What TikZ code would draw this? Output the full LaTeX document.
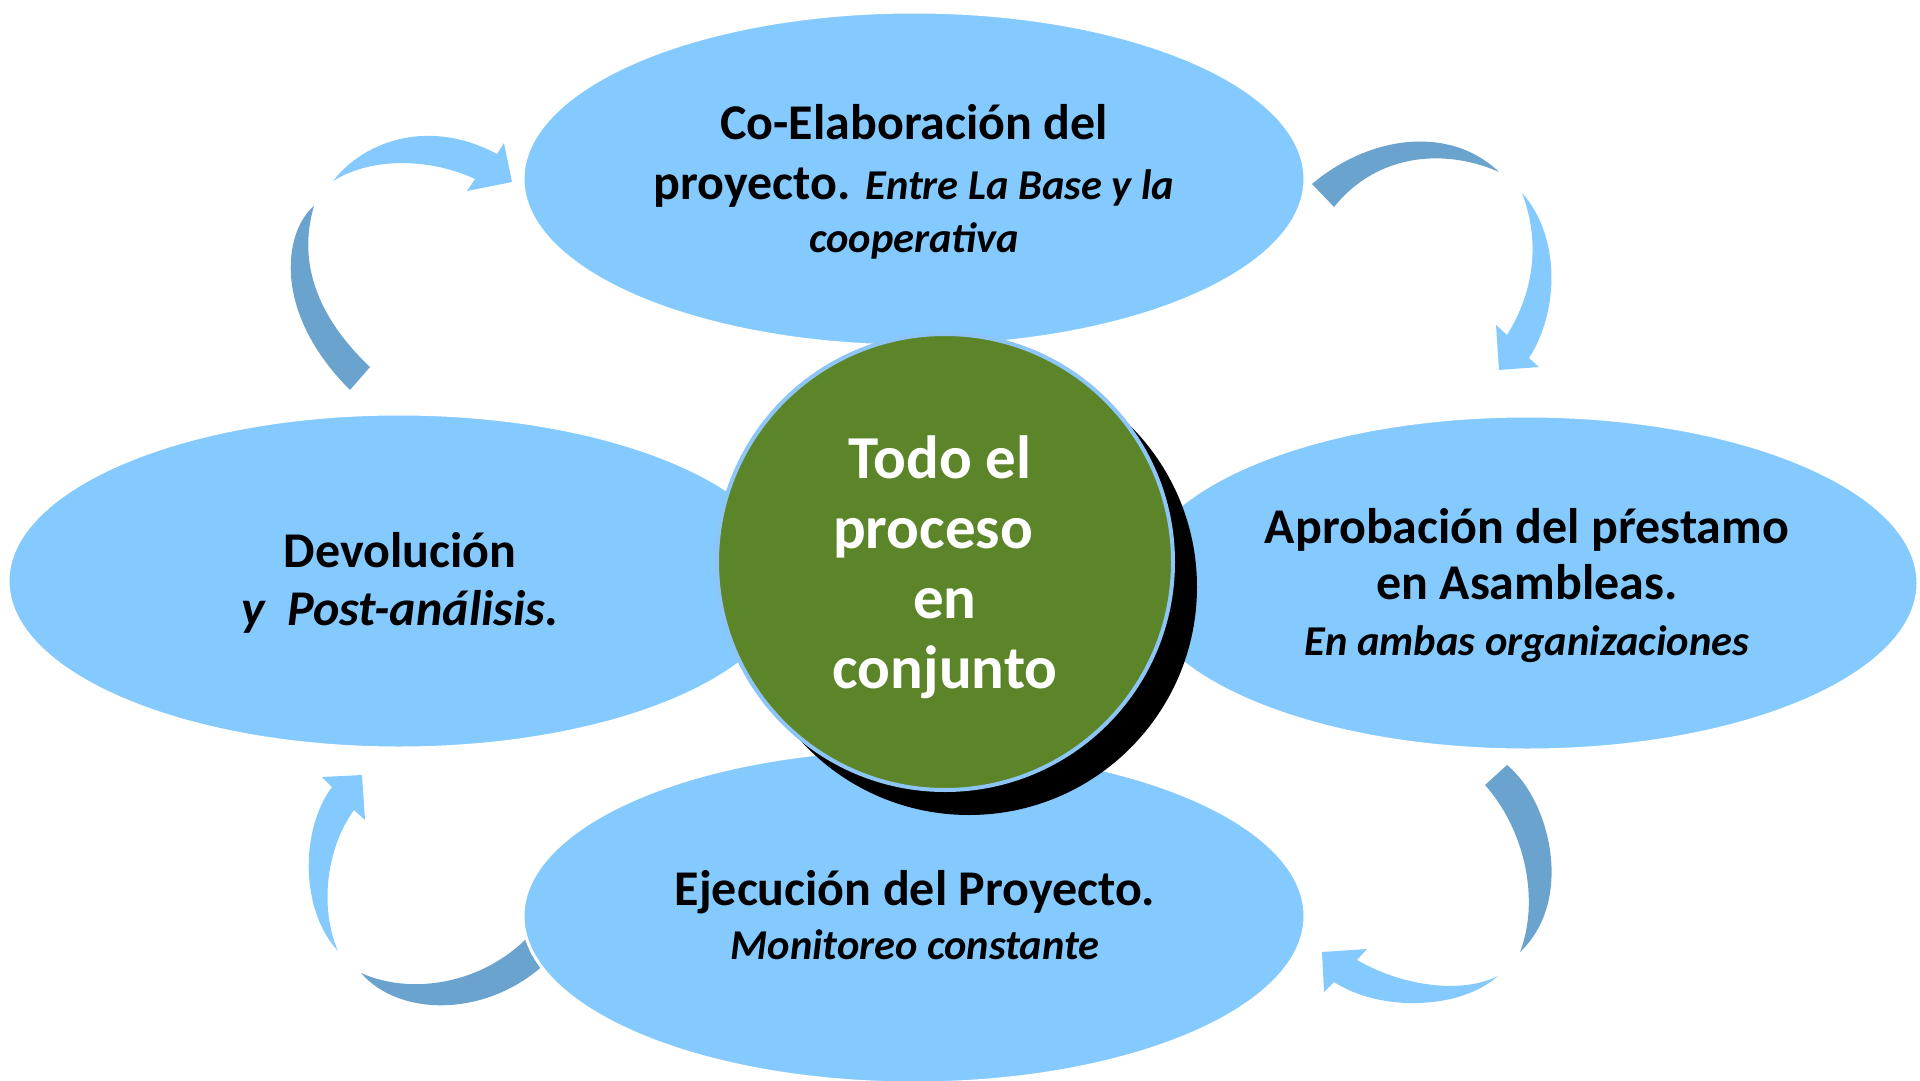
\documentclass[tikz,border=0pt]{standalone}
\usepackage{fontspec}
\setmainfont{Carlito}
\usepackage{tikz}
\usetikzlibrary{positioning}
\usetikzlibrary{shapes.geometric}

\definecolor{cielo}{RGB}{133,202,255}
\definecolor{acero}{RGB}{106,164,206}
\definecolor{olivo}{RGB}{92,133,42}
\definecolor{borde}{RGB}{141,197,246}
\newcommand{\cursiva}[1]{{\fontsize{42.5}{46}\selectfont\itshape #1}}

\begin{document}
\begin{tikzpicture}[x=1pt,y=-1pt,
	etapa/.style={ellipse,fill=cielo,draw=white,line width=3pt,minimum width=782pt,minimum height=334pt,inner sep=0pt},
	rotulo/.style={align=center,anchor=base,inner sep=0pt,font=\fontsize{50}{56}\selectfont\bfseries},
	cola/.style={fill=acero},
	punta/.style={fill=cielo}]
	\useasboundingbox (0,0) rectangle (1920,1081);

	\fill[punta] (333,181) .. controls (365,140) and (430,118) .. (497,154) -- (504,143) -- (512,182) -- (467,191) -- (475,179) .. controls (435,160) and (375,155) .. (333,181) -- cycle;
	\fill[cola] (314,206) .. controls (285,230) and (270,310) .. (350,390) -- (370,367) .. controls (315,315) and (298,260) .. (314,206) -- cycle;
	\fill[cola] (1312,184) .. controls (1370,135) and (1450,125) .. (1499,172) .. controls (1450,150) and (1380,150) .. (1334,207) -- cycle;
	\fill[punta] (1522,193) .. controls (1560,235) and (1560,310) .. (1529,358) -- (1539,367) -- (1499,370) -- (1496,325) -- (1507,335) .. controls (1535,290) and (1540,240) .. (1522,193) -- cycle;
	\fill[cola] (1507,765) .. controls (1550,800) and (1575,900) .. (1520,952) .. controls (1540,900) and (1525,830) .. (1485,785) -- cycle;
	\fill[punta] (1498,976) .. controls (1460,1010) and (1380,1012) .. (1334,982) -- (1324,992) -- (1322,952) -- (1367,949) -- (1357,960) .. controls (1400,985) and (1460,995) .. (1498,976) -- cycle;
	\fill[punta] (338,951) .. controls (300,910) and (300,830) .. (332,787) -- (322,777) -- (362,775) -- (365,820) -- (354,810) .. controls (325,850) and (320,910) .. (338,951) -- cycle;
	\fill[cola] (361,973) .. controls (400,1018) and (490,1018) .. (549,960) -- (527,938) .. controls (480,985) and (410,995) .. (361,973) -- cycle;

	\node[etapa] (Z0) at (914,179) {};
	\node[etapa] (Z1) at (1527,583) {};
	\node[etapa] (Z2) at (914,916) {};
	\node[etapa] (Z3) at (399,581) {};
	\node[circle,fill=black,minimum size=456pt,inner sep=0pt] (sombra) at (969,587) {};
	\node[circle,fill=olivo,draw=borde,line width=4pt,minimum size=456pt,inner sep=0pt] (centro) at (945,562) {};

	\node[rotulo,font=\fontsize{50}{53}\selectfont\bfseries] (Z0txt) at (914,252) {Co-Elaboración del\\[7pt] proyecto. \cursiva{Entre La Base y la}\\ \cursiva{cooperativa}};
	\node[rotulo] (Z1txt) at (1527,655) {Aprobación del pŕestamo\\ en Asambleas.\\ \cursiva{En ambas organizaciones}};
	\node[rotulo,font=\fontsize{50}{54}\selectfont\bfseries] (Z2txt) at (915,959) {Ejecución del Proyecto.\\ \cursiva{Monitoreo constante}};
	\node[rotulo,font=\fontsize{50}{57.5}\selectfont\bfseries] (Z3txt) at (400,625) {Devolución\\ \textit{y\ \ Post-análisis.}};
	\node[rotulo,text=white,font=\fontsize{61}{70}\selectfont\bfseries] (centrotxt) at (945,688) {Todo el\kern10pt\\ proceso\kern24pt\\ en\\ conjunto};
\end{tikzpicture}
\end{document}
